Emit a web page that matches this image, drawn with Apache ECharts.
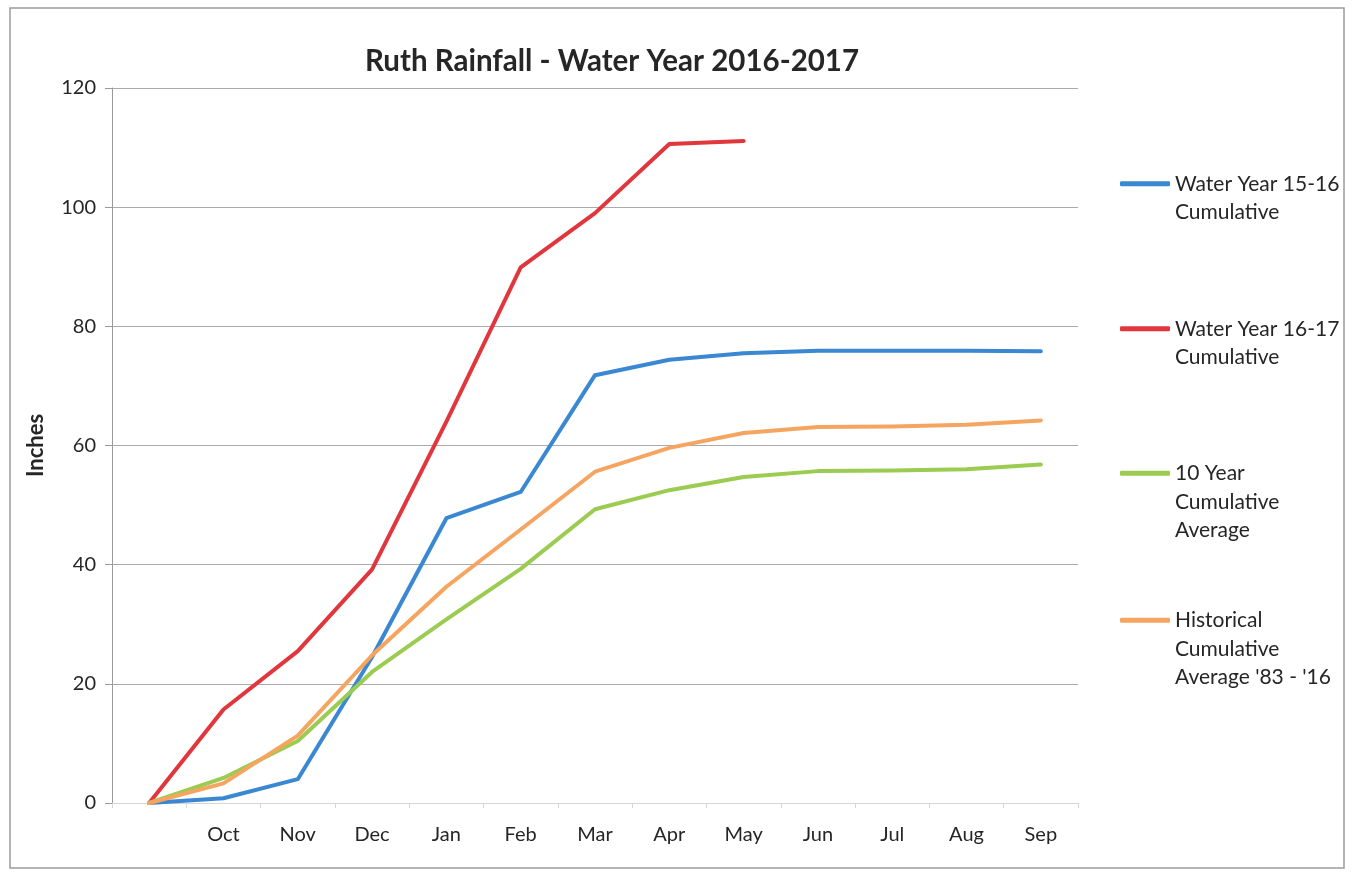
<!DOCTYPE html>
<html>
<head>
<meta charset="utf-8">
<title>Ruth Rainfall - Water Year 2016-2017</title>
<script src="https://cdn.jsdelivr.net/npm/echarts@6/dist/echarts.min.js"></script>
<style>
  html, body { margin: 0; padding: 0; background: #fff; }
  #chart { width: 1352px; height: 874px; }
</style>
</head>
<body>
<div id="chart"></div>
<script>
// Month categories of the water year; the first slot is the starting point (0 in.)
const months = ['', 'Oct', 'Nov', 'Dec', 'Jan', 'Feb', 'Mar', 'Apr', 'May', 'Jun', 'Jul', 'Aug', 'Sep'];

// Cumulative rainfall, inches
const wy1516 = [0, 0.8, 4.0, 24.5, 47.8, 52.2, 71.8, 74.4, 75.5, 75.9, 75.9, 75.9, 75.8];
const wy1617 = [0, 15.7, 25.5, 39.2, 64.0, 89.9, 99.0, 110.6, 111.1, null, null, null, null];
const tenYearAvg = [0, 4.2, 10.4, 22.0, 30.8, 39.3, 49.3, 52.5, 54.7, 55.7, 55.8, 56.0, 56.8];
const historicalAvg = [0, 3.3, 11.3, 24.8, 36.3, 45.9, 55.6, 59.6, 62.1, 63.1, 63.2, 63.5, 64.2];

const yTicks = { min: 0, max: 120, interval: 20 };

const seriesDefs = [
  { name: 'Water Year 15-16\nCumulative', data: wy1516, color: '#3a87d2', top: 141 },
  { name: 'Water Year 16-17\nCumulative', data: wy1617, color: '#e0363c', top: 286 },
  { name: '10 Year\nCumulative\nAverage', data: tenYearAvg, color: '#9bcb50', top: 402 },
  { name: "Historical\nCumulative\nAverage '83 - '16", data: historicalAvg, color: '#f6a561', top: 549 }
];

const FONT = 'Lato, "Open Sans", sans-serif';
const LINE_H = 28.5;

// Pad each legend label with leading blank lines so its first line lines up with the swatch
function legendLabel(name) {
  const n = name.split('\n').length;
  return '\n'.repeat(n - 1) + name;
}

const chart = echarts.init(document.getElementById('chart'), null, { renderer: 'canvas' });

chart.setOption({
  backgroundColor: '#ffffff',
  animation: false,
  title: {
    text: 'Ruth Rainfall - Water Year 2016-2017',
    left: 607,
    top: 41,
    textAlign: 'center',
    textStyle: { fontFamily: FONT, fontSize: 29.5, fontWeight: 'bold', color: '#262626' }
  },
  legend: seriesDefs.map(s => ({
    data: [s.name],
    formatter: legendLabel,
    orient: 'vertical',
    left: 1120,
    top: s.top,
    padding: 0,
    itemWidth: 50,
    itemHeight: 5,
    icon: 'roundRect',
    selectedMode: false,
    textStyle: { fontFamily: FONT, fontSize: 21, color: '#262626', lineHeight: LINE_H }
  })),
  grid: { left: 112, right: 274, top: 88, bottom: 71, containLabel: false },
  xAxis: {
    type: 'category',
    data: months,
    boundaryGap: true,
    axisLine: { show: true, lineStyle: { color: '#d6d6d6', width: 1 } },
    axisTick: { show: true, length: 5, lineStyle: { color: '#d6d6d6' } },
    axisLabel: { fontFamily: FONT, fontSize: 20, color: '#262626', margin: 22 },
    splitLine: { show: false }
  },
  yAxis: {
    type: 'value',
    min: yTicks.min,
    max: yTicks.max,
    interval: yTicks.interval,
    name: 'Inches',
    nameLocation: 'middle',
    nameGap: 65,
    nameRotate: 90,
    nameTextStyle: { fontFamily: FONT, fontSize: 22, fontWeight: 'bold', color: '#262626' },
    axisLine: { show: true, lineStyle: { color: '#9a9a9a', width: 1 } },
    axisTick: { show: true, length: 7, lineStyle: { color: '#9a9a9a' } },
    axisLabel: { fontFamily: FONT, fontSize: 20, color: '#262626', margin: 16 },
    splitLine: { show: true, lineStyle: { color: '#ababab', width: 1 } }
  },
  series: seriesDefs.map(s => ({
    name: s.name,
    type: 'line',
    data: s.data,
    showSymbol: false,
    symbol: 'none',
    connectNulls: false,
    color: s.color,
    lineStyle: { color: s.color, width: 4, cap: 'round', join: 'round' }
  })),
  graphic: [{
    type: 'rect',
    shape: { x: 10, y: 8, width: 1334, height: 860 },
    style: { fill: 'none', stroke: '#9c9c9c', lineWidth: 1.5 },
    silent: true,
    z: -1
  }]
});
</script>
</body>
</html>
